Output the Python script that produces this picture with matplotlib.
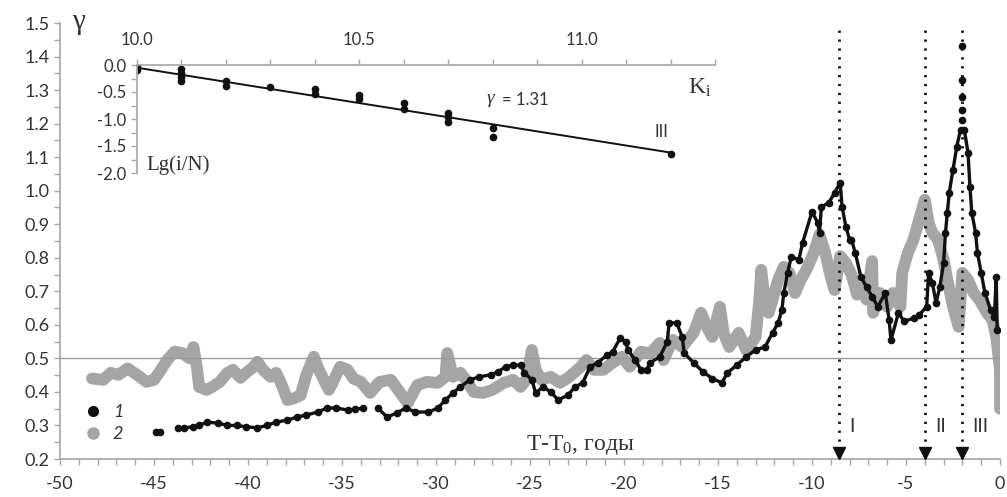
import matplotlib
matplotlib.use("Agg")
import matplotlib.pyplot as plt
from matplotlib.lines import Line2D
from matplotlib.ticker import MultipleLocator, FuncFormatter
import numpy as np

plt.rcParams['font.family'] = ['Lato', 'DejaVu Sans']
plt.rcParams['axes.unicode_minus'] = False
plt.rcParams['mathtext.fontset'] = 'custom'
plt.rcParams['mathtext.rm'] = 'Liberation Serif'
plt.rcParams['mathtext.it'] = 'Liberation Serif:italic'

# series 2 (gray band)
gray_t = [-48.3, -47.7, -47.3, -46.9, -46.4, -45.9, -45.4, -45.0, -44.7, -44.3,
          -43.9, -43.5, -43.1, -42.9, -42.7, -42.6, -42.2, -41.9, -41.5, -41.1,
          -40.8, -40.4, -40.1, -39.7, -39.5, -39.2, -38.8, -38.5, -38.2, -37.9,
          -37.6, -37.2, -36.9, -36.5, -36.3, -36.0, -35.7, -35.5, -35.1, -34.7,
          -34.4, -34.0, -33.5, -33.0, -32.4, -31.9, -31.5, -31.0, -30.5, -29.9,
          -29.5, -29.4, -29.1, -28.7, -28.4, -28.0, -27.5, -27.0, -26.4, -25.9,
          -25.5, -25.2, -24.9, -24.7, -24.4, -23.9, -23.4, -22.9, -22.3, -22.0,
          -21.6, -21.1, -20.6, -20.1, -19.7, -19.1, -18.6, -18.1, -17.9, -17.4,
          -16.9, -16.3, -15.9, -15.6, -15.3, -14.9, -14.7, -14.4, -13.9, -13.5,
          -13.0, -12.8, -12.7, -12.5, -12.3, -12.1, -11.8, -11.5, -11.2, -10.9,
          -10.6, -10.3, -9.9, -9.6, -9.3, -9.0, -8.8, -8.5, -8.2, -7.9,
          -7.6, -7.3, -7.1, -6.8, -6.75, -6.4, -6.0, -5.7, -5.3, -5.2,
          -4.9, -4.6, -4.3, -4.0, -3.8, -3.6, -3.3, -3.0, -2.8, -2.5,
          -2.2, -2.0, -1.7, -1.4, -1.1, -0.7, -0.4, -0.2, 0.0, 0.0]
gray_g = [0.440, 0.436, 0.457, 0.451, 0.470, 0.451, 0.430, 0.436, 0.460, 0.495,
          0.520, 0.516, 0.500, 0.534, 0.466, 0.415, 0.406, 0.415, 0.430, 0.457,
          0.466, 0.442, 0.457, 0.475, 0.490, 0.466, 0.445, 0.457, 0.420, 0.376,
          0.380, 0.390, 0.450, 0.505, 0.475, 0.440, 0.406, 0.427, 0.475, 0.466,
          0.440, 0.430, 0.397, 0.430, 0.436, 0.397, 0.367, 0.420, 0.430, 0.427,
          0.445, 0.516, 0.445, 0.457, 0.436, 0.400, 0.397, 0.406, 0.427, 0.436,
          0.415, 0.436, 0.525, 0.466, 0.436, 0.445, 0.427, 0.445, 0.475, 0.495,
          0.466, 0.466, 0.487, 0.505, 0.475, 0.520, 0.515, 0.546, 0.495, 0.555,
          0.534, 0.576, 0.636, 0.594, 0.564, 0.654, 0.576, 0.534, 0.576, 0.525,
          0.564, 0.675, 0.764, 0.666, 0.636, 0.675, 0.734, 0.773, 0.755, 0.695,
          0.734, 0.764, 0.815, 0.870, 0.815, 0.743, 0.704, 0.805, 0.785, 0.750,
          0.690, 0.713, 0.675, 0.790, 0.636, 0.695, 0.654, 0.695, 0.654, 0.755,
          0.815, 0.854, 0.913, 0.973, 0.905, 0.875, 0.854, 0.794, 0.734, 0.654,
          0.594, 0.755, 0.734, 0.695, 0.675, 0.636, 0.615, 0.564, 0.466, 0.350]

# series 1 (black dots), nan = gap
black_t = [-44.9, -44.7, np.nan, -43.7, -43.4, -42.9, -42.6, -42.2, -41.6, -41.1,
           -40.6, -40.1, -39.5, -39.0, -38.5, -37.9, -37.4, -36.9, -36.3, -35.8,
           -35.3, -34.7, -34.3, -33.9, np.nan, -33.1, -32.6, -32.1, -31.6, -31.1,
           -30.4, -29.9, -29.5, -29.1, -28.7, -28.2, -27.7, -27.1, -26.7, -26.3,
           -25.9, -25.5, -25.3, -24.9, -24.7, -24.3, -23.9, -23.5, -23.0, -22.6,
           -22.2, -21.8, -21.4, -20.9, -20.6, -20.2, -19.9, -19.8, -19.4, -19.1,
           -18.8, -18.6, -18.1, -17.7, -17.6, -17.2, -16.9, -16.8, -16.3, -15.8,
           -15.3, -14.8, -14.5, -14.0, -13.5, -13.0, -12.5, -12.1, -11.8, -11.6,
           -11.5, -11.3, -11.1, -10.7, -10.5, -10.0, -9.7, -9.6, -9.5, -9.1,
           -8.8, -8.5, -8.4, -8.2, -8.0, -7.9, -7.7, -7.4, -7.1, -6.8,
           -6.5, -6.1, -5.9, -5.8, -5.4, -5.1, -4.6, -4.3, -3.9, -3.8,
           -3.6, -3.4, -3.2, -3.0, -2.9, -2.8, -2.7, -2.5, -2.3, -2.1,
           -1.9, -1.7, -1.6, -1.5, -1.3, -1.2, -1.0, -0.8, -0.5, -0.3,
           -0.2, -0.15]
black_g = [0.280, 0.280, np.nan, 0.293, 0.293, 0.296, 0.300, 0.310, 0.307, 0.300,
           0.300, 0.296, 0.293, 0.300, 0.310, 0.316, 0.325, 0.331, 0.340, 0.352,
           0.352, 0.346, 0.348, 0.352, np.nan, 0.352, 0.325, 0.337, 0.352, 0.340,
           0.340, 0.352, 0.376, 0.397, 0.415, 0.436, 0.445, 0.451, 0.460, 0.475,
           0.480, 0.480, 0.457, 0.436, 0.397, 0.415, 0.400, 0.376, 0.390, 0.415,
           0.427, 0.475, 0.487, 0.510, 0.520, 0.561, 0.549, 0.525, 0.495, 0.466,
           0.466, 0.487, 0.505, 0.549, 0.606, 0.606, 0.564, 0.516, 0.487, 0.460,
           0.440, 0.427, 0.457, 0.480, 0.505, 0.525, 0.534, 0.576, 0.606, 0.645,
           0.695, 0.755, 0.803, 0.794, 0.845, 0.937, 0.905, 0.875, 0.952, 0.964,
           0.994, 1.024, 0.952, 0.893, 0.854, 0.854, 0.815, 0.743, 0.713, 0.684,
           0.654, 0.695, 0.615, 0.555, 0.636, 0.610, 0.620, 0.630, 0.654, 0.755,
           0.725, 0.666, 0.713, 0.785, 0.875, 0.934, 0.994, 1.063, 1.131, 1.182,
           1.182, 1.113, 1.012, 0.934, 0.875, 0.815, 0.755, 0.695, 0.645, 0.624,
           0.743, 0.585]

# isolated dots of the last peak
spike_t = [-2.02, -2.02, -2.02, -2.0, -2.0]
spike_g = [1.43, 1.33, 1.28, 1.24, 1.21]

# stage markers
stage_t = [-8.55, -4.0, -2.0]
stage_lab = ["I", "II", "III"]

# inset: Lg(i/N) vs K_i
ins_k = [10.0, 10.0, 10.0, 10.1, 10.1, 10.1, 10.1, 10.2, 10.2, 10.3,
         10.4, 10.4, 10.5, 10.5, 10.6, 10.6, 10.7, 10.7, 10.7, 10.8,
         10.8, 11.2]
ins_lg = [-0.02, -0.06, -0.10, -0.08, -0.15, -0.23, -0.30, -0.29, -0.39, -0.41,
          -0.44, -0.54, -0.56, -0.63, -0.70, -0.82, -0.88, -0.96, -1.05, -1.16,
          -1.34, -1.65]
fit_k = [10.0, 11.2]
fit_gamma = 1.31
fit_b = -0.05

gray_c = '#a5a5a5'
axis_c = '#a6a6a6'
txt_c = '#333333'

fig = plt.figure(figsize=(10.07, 4.97), dpi=100)
ax = fig.add_axes([60/1007, 38/497, 940/1007, 436/497])

ax.plot(gray_t, gray_g, color=gray_c, lw=8.5, solid_joinstyle='round',
        solid_capstyle='round', zorder=2)
ax.plot(black_t, black_g, color='#111111', lw=2.4, marker='o', ms=4.5,
        zorder=3)
ax.plot(spike_t, spike_g, ls='none', color='#111111', marker='o', ms=4.5, zorder=3)

ax.axhline(0.5, color='#9a9a9a', lw=1, zorder=2.5)

for t, lab in zip(stage_t, stage_lab):
    ax.plot([t, t], [0.2, 1.49], color='#111111', lw=2,
            linestyle=(0, (0.8, 2.4)), zorder=4)
    ax.plot(t, 0.217, marker='v', color='#111111', ms=8, zorder=5)
    ax.text(t + 0.55, 0.296, lab, fontsize=14, color=txt_c, va='center', ha='left')

ax.set_xlim(-50, 0)
ax.set_ylim(0.2, 1.5)
ax.xaxis.set_major_locator(MultipleLocator(5))
ax.xaxis.set_minor_locator(MultipleLocator(1))
ax.yaxis.set_major_locator(MultipleLocator(0.1))
ax.yaxis.set_minor_locator(MultipleLocator(0.05))
ax.xaxis.set_major_formatter(FuncFormatter(lambda v, p: "%d" % round(v)))
ax.yaxis.set_major_formatter(FuncFormatter(lambda v, p: "%.1f" % v))
for s in ['top', 'right']:
    ax.spines[s].set_visible(False)
for s in ['left', 'bottom']:
    ax.spines[s].set_color(axis_c)
    ax.spines[s].set_linewidth(1.2)
ax.tick_params(which='both', color=axis_c, width=1, length=4, labelcolor=txt_c,
               labelsize=13)
ax.tick_params(axis='x', which='major', pad=8)

fig.text(72/1007, 1 - 22/497, "γ", fontsize=21, color=txt_c,
         family='Liberation Serif', ha='left', va='center')
ax.text(-25.2, 0.243, r"T-T$_\mathrm{0}$, годы", fontsize=17, color=txt_c,
        family='Liberation Serif', ha='left', va='center')

handles = [Line2D([], [], ls='none', marker='o', color='#111111', ms=7),
           Line2D([], [], ls='none', marker='o', color=gray_c, ms=8)]
leg = ax.legend(handles, ["1", "2"], loc='upper left',
                bbox_to_anchor=(0.012, 0.155), frameon=False, handlelength=1,
                handletextpad=0.6, labelspacing=0.35, borderpad=0.2,
                prop={'size': 13, 'style': 'italic'})
for t in leg.get_texts():
    t.set_color(txt_c)

# inset
ins = fig.add_axes([137/1007, (497-173)/497, 578/1007, 108/497])
ins.set_facecolor('none')
ins.plot(fit_k, [fit_b - fit_gamma*(k - 10.0) for k in fit_k], color='#111111', lw=1.4)
ins.plot(ins_k, ins_lg, ls='none', marker='o', color='#111111', ms=4.5)
ins.set_xlim(10.0, 11.3)
ins.set_ylim(-2.0, 0.0)
ins.xaxis.tick_top()
ins.xaxis.set_major_locator(MultipleLocator(0.5))
ins.xaxis.set_minor_locator(MultipleLocator(0.1))
ins.yaxis.set_major_locator(MultipleLocator(0.5))
ins.yaxis.set_minor_locator(MultipleLocator(0.25))
ins.xaxis.set_major_formatter(FuncFormatter(lambda v, p: "%.1f" % v))
ins.yaxis.set_major_formatter(FuncFormatter(lambda v, p: "%.1f" % v))
for s in ['bottom', 'right']:
    ins.spines[s].set_visible(False)
for s in ['top', 'left']:
    ins.spines[s].set_color(axis_c)
    ins.spines[s].set_linewidth(1.2)
ins.tick_params(which='both', color=axis_c, width=1, length=4, labelcolor=txt_c,
                labelsize=12)
ins.tick_params(axis='x', which='major', pad=8)

ins.text(11.24, -0.42, r"K$_\mathrm{i}$", fontsize=17, color=txt_c,
         family='Liberation Serif', ha='left', va='center')
ins.text(10.02, -1.85, "Lg(i/N)", fontsize=15, color=txt_c,
         family='Liberation Serif', ha='left', va='center')
ins.text(10.785, -0.66, r"$\mathit{\gamma}$", fontsize=14, color=txt_c,
         ha='left', va='center')
ins.text(10.82, -0.64, "= %.2f" % fit_gamma, fontsize=12, color=txt_c,
         ha='left', va='center')
ins.text(11.165, -1.24, "III", fontsize=12, color=txt_c, ha='left', va='center')

fig.savefig("out.png", dpi=100)
